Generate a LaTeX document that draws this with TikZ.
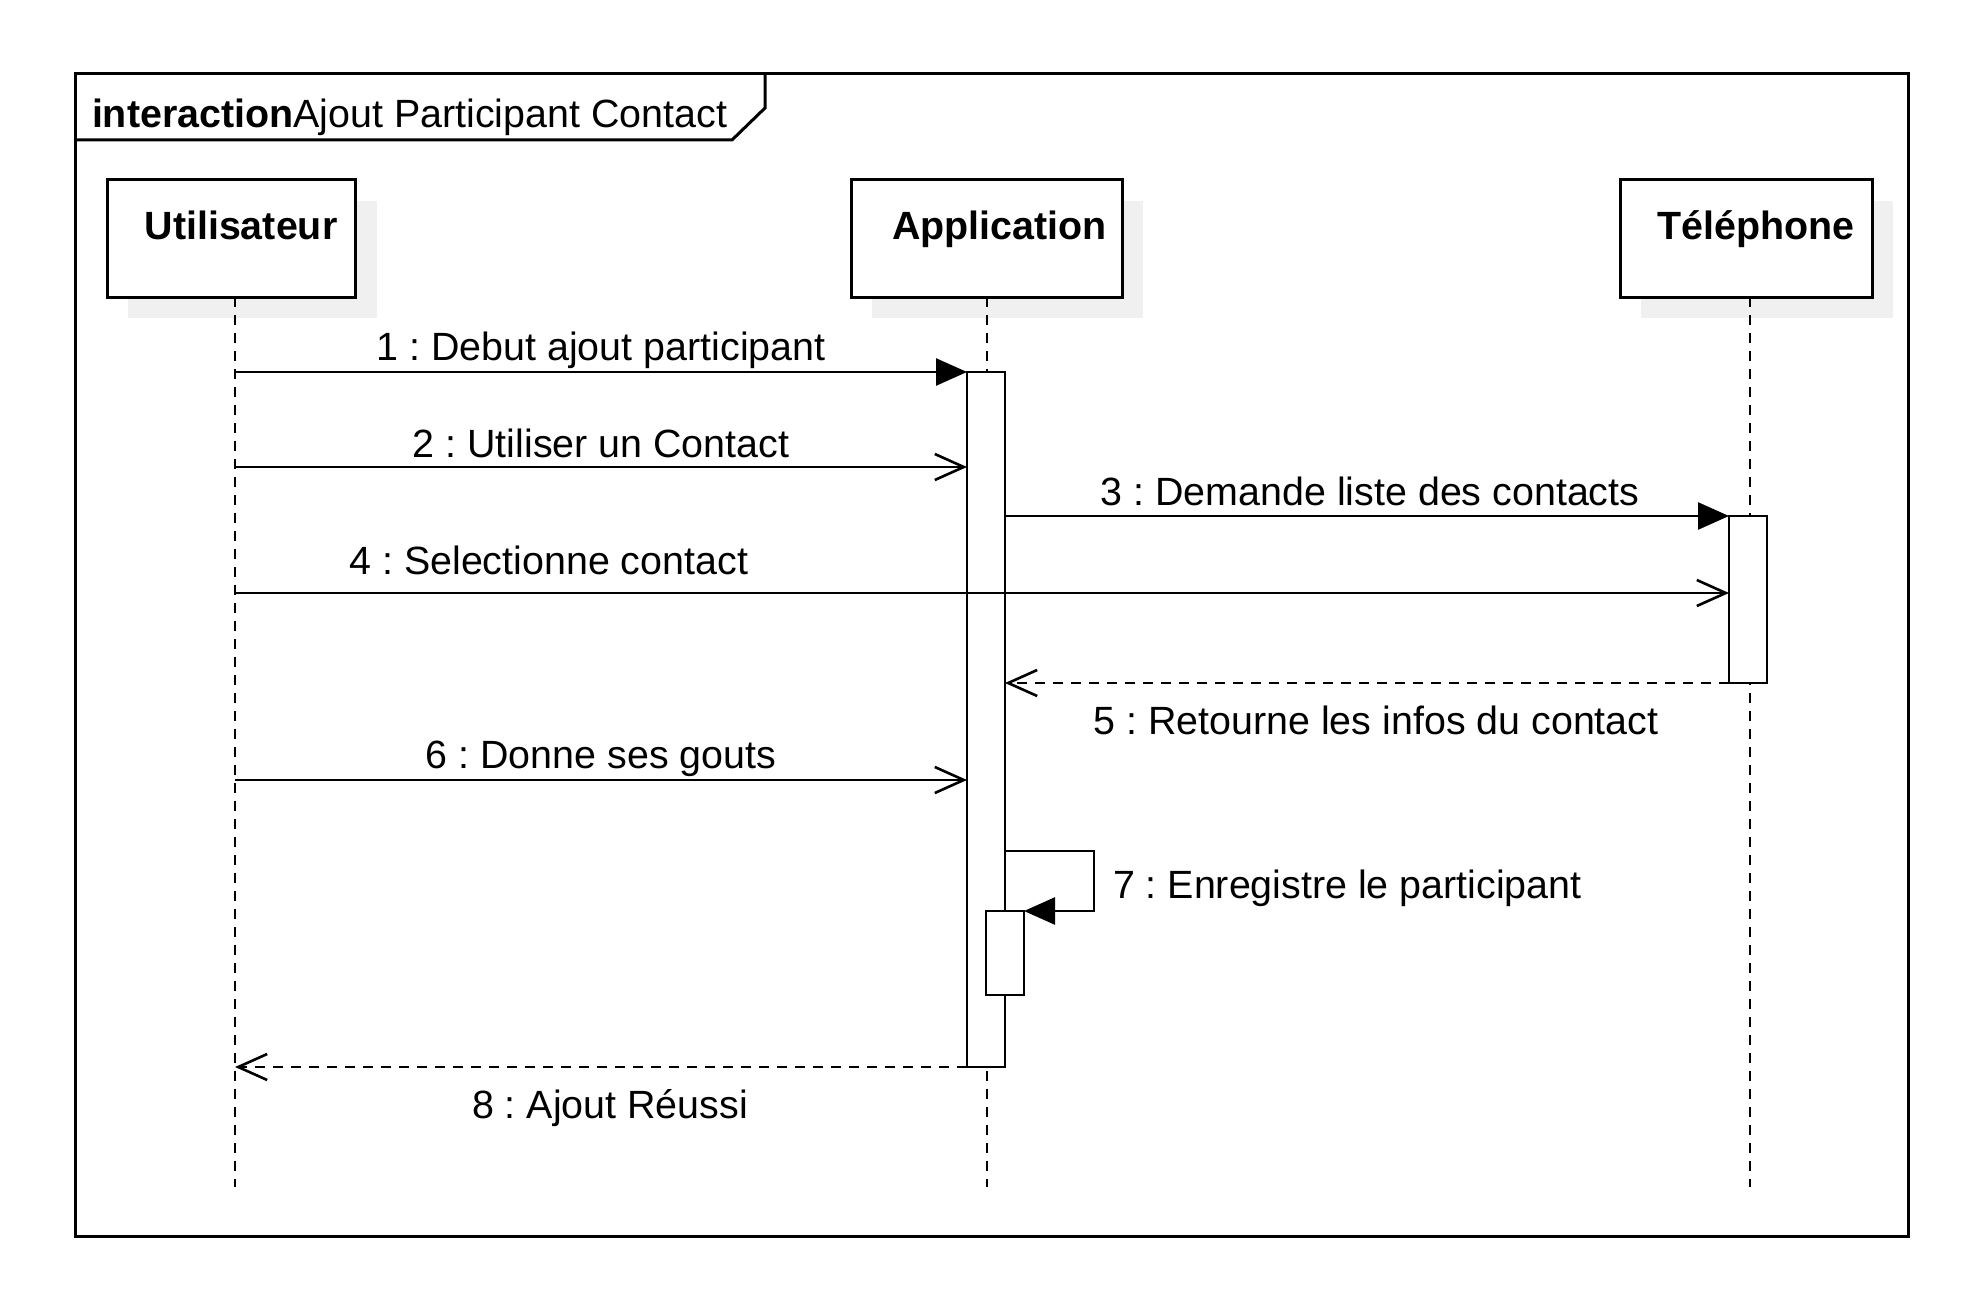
\documentclass[tikz,border=0pt]{standalone}
\usepackage{fontspec}
\setmainfont{Liberation Sans}
\usetikzlibrary{arrows.meta}
\frenchspacing
\begin{document}
\begin{tikzpicture}[x=0.5pt,y=-0.5pt,
  every node/.style={inner sep=0pt, outer sep=0pt},
  txt/.style={font=\fontsize{19.7pt}{23pt}\selectfont},
  btxt/.style={font=\fontsize{19.7pt}{23pt}\selectfont\bfseries},
  obj/.style={draw=black, line width=1.5pt, fill=white, rectangle, minimum height=58.5pt},
  shade/.style={fill=black!6, draw=none},
  lifeline/.style={line width=1.3pt, dash pattern=on 5pt off 4pt},
  bar/.style={draw=black, line width=1.3pt, fill=white, rectangle, minimum width=19pt},
  sync/.style={line width=1.3pt, -{Triangle[length=15.5pt,width=13.5pt]}},
  async/.style={line width=1.3pt, -{Straight Barb[length=14.5pt,width=13pt]}},
  reply/.style={async, dash pattern=on 5pt off 4pt},
  mlbl/.style={txt, anchor=base},
]
\useasboundingbox (0,0) rectangle (1983,1311);
\fill[white] (0,0) rectangle (1983,1311);

% frame
\draw[line width=1.5pt] (75,74) rectangle (1908,1236);
\draw[line width=1.5pt] (75,140) -- (732,140) -- (765,108) -- (765,74);
\node[txt, anchor=base west] (title) at (92,128) {\bfseries interaction\mdseries Ajout Participant Contact};

% shadows
\fill[shade] (128,201) rectangle (377,318);
\fill[shade] (872,201) rectangle (1143,318);
\fill[shade] (1641,201) rectangle (1893,318);

% lifeline heads
\node[obj, minimum width=124pt] (U) at (231,238.5) {};
\node[obj, minimum width=135.5pt] (A) at (986.5,238.5) {};
\node[obj, minimum width=126pt] (T) at (1746,238.5) {};
\node[btxt, anchor=base] (Ul) at (241,240) {Utilisateur};
\node[btxt, anchor=base] (Al) at (999.5,240) {Application};
\node[btxt, anchor=base] (Tl) at (1756,240) {Téléphone};

% lifelines
\coordinate (Ue) at (235,1187);
\coordinate (Ae) at (987,1187);
\coordinate (Te) at (1750,1187);
\draw[lifeline] (U.south -| Ue) -- (Ue);
\draw[lifeline] (A.south -| Ae) -- (Ae);
\draw[lifeline] (T.south -| Te) -- (Te);

% activation bars
\node[bar, minimum height=347.5pt] (abar) at (986,719.5) {};
\node[bar, minimum height=83.5pt] (tbar) at (1748,599.5) {};
\node[bar, minimum height=42pt] (sbar) at (1005,953) {};

% messages
\coordinate (m1) at (235,372);
\draw[sync] (m1) -- (abar.north west)
  node[mlbl, midway, yshift=6pt] (l1) {1 : Debut ajout participant};

\coordinate (m2) at (235,467);
\draw[async] (m2) -- (m2 -| abar.west)
  node[mlbl, midway, yshift=5pt] (l2) {2 : Utiliser un Contact};

\draw[sync] (abar.east |- tbar.north) -- (tbar.north west)
  node[mlbl, midway, yshift=5.5pt, xshift=1.5pt] (l3) {3 : Demande liste des contacts};

\coordinate (m4) at (235,593);
\draw[async] (m4) -- (m4 -| tbar.west)
  node[mlbl, pos=0.21, yshift=9.5pt] (l4) {4 : Selectionne contact};

\draw[reply] (tbar.south west) -- (tbar.south west -| abar.east)
  node[mlbl, midway, yshift=-25.5pt, xshift=4.5pt] (l5) {5 : Retourne les infos du contact};

\coordinate (m6) at (235,780);
\draw[async] (m6) -- (m6 -| abar.west)
  node[mlbl, midway, yshift=6pt] (l6) {6 : Donne ses gouts};

\coordinate (s7) at (1094,851);
\draw[sync] (s7 -| abar.east) -- (s7) -- (s7 |- sbar.north) -- (sbar.north east);
\node[txt, anchor=base west] (l7) at (1113,898) {7 : Enregistre le participant};

\draw[reply] (abar.south west) -- (abar.south west -| Ue)
  node[mlbl, midway, yshift=-25.5pt, xshift=4.5pt] (l8) {8 : Ajout Réussi};
\end{tikzpicture}
\end{document}
